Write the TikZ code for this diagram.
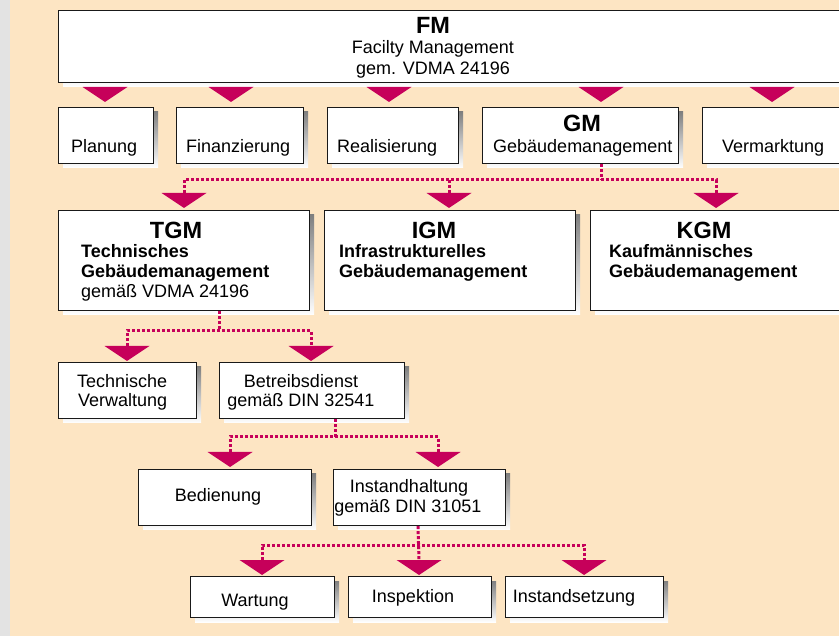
\documentclass[tikz,border=0pt]{standalone}
\usepackage{fontspec}
\setmainfont{Liberation Sans}
\usetikzlibrary{calc}
\definecolor{bgbeige}{RGB}{253,229,195}
\definecolor{strip}{RGB}{227,227,227}
\definecolor{shade}{RGB}{214,214,214}
\definecolor{mag}{RGB}{198,0,90}
\newcommand\mytri[1]{\fill[mag] ($(#1)+(-22.5,-15)$) -- ($(#1)+(22.5,-15)$) -- (#1) -- cycle;}
% \mybox{name}{x}{y}{w}{h}
\newcommand\mybox[5]{%
  \fill[shade] ($(#2,#3)+(5,5)$) rectangle ($(#2,#3)+(#4,#5)+(5,5)$);
  \node[box, minimum width=#4, minimum height=#5] (#1) at (#2,#3) {};}
\tikzset{
  box/.style={draw=black!90, line width=1.1pt, fill=white, rectangle, inner sep=0pt, anchor=north west},
  lbl/.style={font=\fontsize{18}{20}\selectfont, inner sep=0pt, anchor=base},
  lbll/.style={lbl, anchor=base west},
  blbl/.style={lbll, font=\fontsize{18}{20}\selectfont\bfseries},
  ttl/.style={font=\fontsize{23.5}{26}\selectfont\bfseries, inner sep=0pt, anchor=base},
  dotl/.style={draw=mag, line width=3pt, dash pattern=on 3pt off 2pt},
}
\begin{document}
\begin{tikzpicture}[x=1pt,y=-1pt]
\useasboundingbox (0,0) rectangle (839,636);
\clip (0,0) rectangle (839,636);
\fill[bgbeige] (0,0) rectangle (839,636);
\fill[strip] (0,0) rectangle (10,636);

% boxes
\mybox{fm}{58}{10}{800}{72}
\mybox{plan}{58}{107}{95}{56}
\mybox{fin}{176}{107}{127}{56}
\mybox{real}{327}{107}{131}{56}
\mybox{gm}{482}{107}{196}{56}
\mybox{verm}{702}{107}{160}{56}
\mybox{tgm}{58}{210}{251}{100}
\mybox{igm}{324}{210}{251}{100}
\mybox{kgm}{590}{210}{270}{100}
\mybox{tv}{58}{362}{138}{56}
\mybox{bd}{219}{362}{185}{56}
\mybox{bed}{138}{469}{173}{56}
\mybox{ih}{333}{469}{172}{56}
\mybox{wart}{190}{576}{144}{41}
\mybox{insp}{348}{576}{143}{41}
\mybox{inst}{505}{576}{158}{41}

% texts
\node[ttl] (fm-t) at (433,34) {FM};
\node[lbl] (fm-a) at (433,54) {Facilty Management};
\node[lbl] (fm-b) at (433,75) {gem. VDMA 24196};
\node[lbll] (plan-t) at (71,153) {Planung};
\node[lbll] (fin-t) at (186,153) {Finanzierung};
\node[lbll] (real-t) at (337,153) {Realisierung};
\node[ttl] (gm-t) at (582,132) {GM};
\node[lbll] (gm-a) at (493,153) {Gebäudemanagement};
\node[lbll] (verm-t) at (722,153) {Vermarktung};

\node[ttl] (tgm-t) at (176,239) {TGM};
\node[blbl] (tgm-a) at (81,258) {Technisches};
\node[blbl] (tgm-b) at (81,278) {Gebäudemanagement};
\node[lbll] (tgm-c) at (81,298) {gemäß VDMA 24196};
\node[ttl] (igm-t) at (434,239) {IGM};
\node[blbl] (igm-a) at (339,258) {Infrastrukturelles};
\node[blbl] (igm-b) at (339,278) {Gebäudemanagement};
\node[ttl] (kgm-t) at (704,239) {KGM};
\node[blbl] (kgm-a) at (609,258) {Kaufmännisches};
\node[blbl] (kgm-b) at (609,278) {Gebäudemanagement};

\node[lbll] (tv-a) at (77,388) {Technische};
\node[lbll] (tv-b) at (78,407) {Verwaltung};
\node[lbl] (bd-a) at (301,388) {Betreibsdienst};
\node[lbl] (bd-b) at (301,407) {gemäß DIN 32541};
\node[lbl] (bed-t) at (218,502) {Bedienung};
\node[lbl] (ih-a) at (409,493) {Instandhaltung};
\node[lbl] (ih-b) at (408,513) {gemäß DIN 31051};
\node[lbl] (wart-t) at (255,606) {Wartung};
\node[lbl] (insp-t) at (413,602) {Inspektion};
\node[lbl] (inst-t) at (574,602) {Instandsetzung};

% arrow tips
\coordinate (t-plan) at (105,102);
\coordinate (t-fin) at (231,102);
\coordinate (t-real) at (389,102);
\coordinate (t-gm) at (601,102);
\coordinate (t-verm) at (772,102);
\coordinate (t-tgm) at (184,208);
\coordinate (t-igm) at (449,208);
\coordinate (t-kgm) at (716,208);
\coordinate (t-tv) at (127,361);
\coordinate (t-bd) at (311,361);
\coordinate (t-bed) at (230,467);
\coordinate (t-ih) at (438,467);
\coordinate (t-wart) at (262,575);
\coordinate (t-insp) at (419,575);
\coordinate (t-inst) at (584,575);
\foreach \t in {plan,fin,real,gm,verm,tgm,igm,kgm,tv,bd,bed,ih,wart,insp,inst}{\mytri{t-\t}}

% junctions
\coordinate (j-gm) at (601,180);
\coordinate (j-tgm) at (219,331);
\coordinate (j-bd) at (335,437);
\coordinate (j-ih) at (418,545);

\draw[dotl] (j-gm |- gm.south) -- (j-gm);
\draw[dotl] ($(t-tgm)+(0,-15)$) -- (t-tgm |- j-gm) -- (t-kgm |- j-gm) -- ($(t-kgm)+(0,-15)$);
\draw[dotl] (t-igm |- j-gm) -- ($(t-igm)+(0,-15)$);

\draw[dotl] (j-tgm |- tgm.south) -- (j-tgm);
\draw[dotl] ($(t-tv)+(0,-15)$) -- (t-tv |- j-tgm) -- (t-bd |- j-tgm) -- ($(t-bd)+(0,-15)$);

\draw[dotl] (j-bd |- bd.south) -- (j-bd);
\draw[dotl] ($(t-bed)+(0,-15)$) -- (t-bed |- j-bd) -- (t-ih |- j-bd) -- ($(t-ih)+(0,-15)$);

\draw[dotl] (j-ih |- ih.south) -- ($(t-insp)+(0,-15)$);
\draw[dotl] ($(t-wart)+(0,-15)$) -- (t-wart |- j-ih) -- (t-inst |- j-ih) -- ($(t-inst)+(0,-15)$);
\end{tikzpicture}
\end{document}
